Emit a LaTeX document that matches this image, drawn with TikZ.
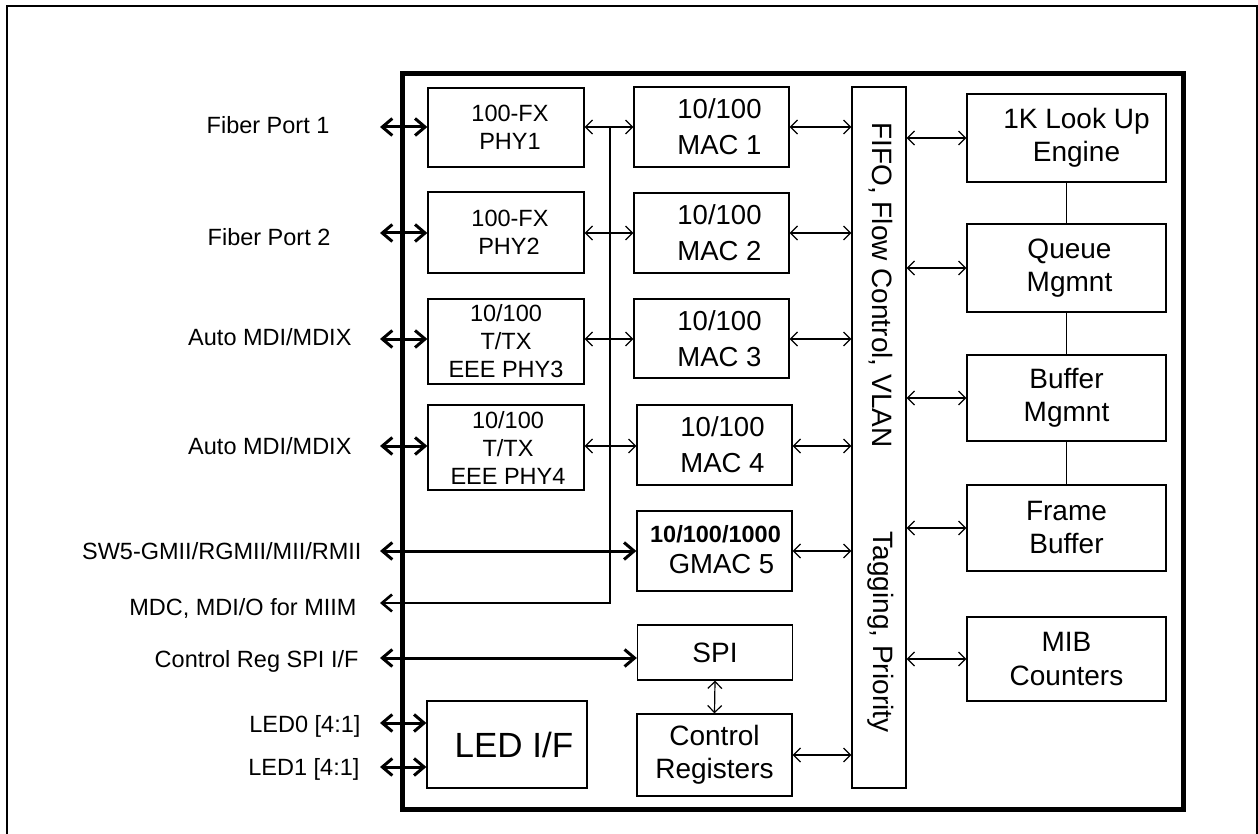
\documentclass[tikz,border=0pt]{standalone}
\usepackage{fontspec}
\setmainfont{Liberation Sans}
\usetikzlibrary{arrows.meta}
\begin{document}
\begin{tikzpicture}[x=1pt,y=-1pt,
  blk/.style={draw, line width=1.3pt, inner sep=0pt, align=center},
  lab/.style={anchor=base east, font=\fontsize{23.5}{28}\selectfont},
  tarr/.style={line width=3pt, {Straight Barb[length=10pt,width=17pt]}-{Straight Barb[length=10pt,width=17pt]}},
  sarr/.style={line width=1.2pt, {Straight Barb[length=7pt,width=14pt]}-{Straight Barb[length=7pt,width=14pt]}},
  link/.style={line width=1.2pt},
  fphy/.style={font=\fontsize{23.5}{28}\selectfont},
  fmac/.style={font=\fontsize{27.5}{36}\selectfont},
  fbig/.style={font=\fontsize{28}{33}\selectfont},
  fled/.style={font=\fontsize{35}{40}\selectfont}
]
\useasboundingbox (0,0) rectangle (1258,834);
% outer frame (open at the bottom)
\draw[line width=2pt] (7,850) -- (7,6.5) -- (1256.5,6.5) -- (1256.5,850);
% chip frame
\node[draw, line width=5pt, inner sep=0pt, minimum width=781pt, minimum height=735pt] (chip) at (792.5,441.5) {};

% PHY column
\node[blk, fphy, minimum width=156pt, minimum height=79pt] (phy1) at (506,127.5) {\hspace*{8pt}100-FX\\\hspace*{8pt}PHY1};
\node[blk, fphy, minimum width=156pt, minimum height=81pt] (phy2) at (506,232.5) {\hspace*{8pt}100-FX\\\hspace*{6pt}PHY2};
\node[blk, fphy, minimum width=156pt, minimum height=85pt] (phy3) at (506,341.5) {10/100\\T/TX\\EEE PHY3};
\node[blk, fphy, minimum width=156pt, minimum height=85pt] (phy4) at (506,447.5) {\hspace*{4pt}10/100\\\hspace*{4pt}T/TX\\\hspace*{4pt}EEE PHY4};

% MAC column
\node[blk, minimum width=155pt, minimum height=80pt] (mac1) at (711.5,127) {};
\node[fmac, align=center] at ([xshift=8pt]mac1.center) {10/100\\MAC 1};
\node[blk, minimum width=155pt, minimum height=80pt] (mac2) at (711.5,233) {};
\node[fmac, align=center] at ([xshift=8pt]mac2.center) {10/100\\MAC 2};
\node[blk, minimum width=155pt, minimum height=79pt] (mac3) at (711.5,338.5) {};
\node[fmac, align=center] at ([xshift=8pt]mac3.center) {10/100\\MAC 3};
\node[blk, minimum width=155pt, minimum height=80pt] (mac4) at (714.5,445) {};
\node[fmac, align=center] at ([xshift=8pt]mac4.center) {10/100\\MAC 4};
\node[blk, minimum width=155pt, minimum height=80pt] (gmac) at (714.5,551) {};
\node[align=center, font=\fontsize{27.5}{31}\selectfont] at ([xshift=1pt,yshift=1pt]gmac.center) {{\fontsize{23.5}{31}\selectfont\bfseries 10/100/1000}\\\hspace*{12pt}GMAC 5};
\node[blk, fbig, minimum width=155pt, minimum height=55pt] (spi) at (715,652.5) {SPI};
\node[blk, fbig, minimum width=155pt, minimum height=82pt] (creg) at (714.5,755) {Control\\Registers};
\node[blk, minimum width=160pt, minimum height=87pt] (led) at (507,744.5) {};
\node[fled] at ([xshift=7pt]led.center) {LED I/F};

% FIFO column
\node[blk, minimum width=54pt, minimum height=701pt] (fifo) at (879,437.5) {};
\node[fbig, rotate=-90] at (881,285) {FIFO, Flow Control, VLAN};
\node[fbig, rotate=-90] at (881,632) {Tagging, Priority};

% right column
\node[blk, minimum width=199pt, minimum height=88pt] (lookup) at (1066.5,138) {};
\node[fbig, align=center] at ([xshift=10pt]lookup.center) {1K Look Up\\Engine};
\node[blk, fbig, minimum width=199pt, minimum height=88pt] (queue) at (1066.5,268) {\hspace*{6pt}Queue\\\hspace*{6pt}Mgmnt};
\node[blk, fbig, minimum width=199pt, minimum height=86pt] (buffer) at (1066.5,398) {Buffer\\Mgmnt};
\node[blk, fbig, minimum width=199pt, minimum height=86pt] (frame) at (1066.5,528) {Frame\\Buffer};
\node[blk, fbig, minimum width=199pt, minimum height=84pt] (mib) at (1066.5,659) {MIB\\Counters};

% external labels
\node[lab] (l1) at (333,134) {Fiber Port 1};
\node[lab] (l2) at (334,246) {Fiber Port 2};
\node[lab] (l3) at (355,345) {Auto MDI/MDIX};
\node[lab] (l4) at (355,454) {Auto MDI/MDIX};
\node[lab] (l5) at (365,559) {SW5-GMII/RGMII/MII/RMII};
\node[lab] (l6) at (360,615) {MDC, MDI/O for MIIM};
\node[lab] (l7) at (362,667) {Control Reg SPI I/F};
\node[lab] (l8) at (364,732) {LED0 [4:1]};
\node[lab] (l9) at (363,775) {LED1 [4:1]};

% free ends of external connectors
\coordinate (e1) at (380,127);
\coordinate (e2) at (380,233);
\coordinate (e3) at (380,339);
\coordinate (e4) at (380,446);
\coordinate (e5) at (380,551);
\coordinate (e6) at (380,603);
\coordinate (e7) at (380,658);
\coordinate (e8) at (380,723);
\coordinate (e9) at (380,767);
\coordinate (bt) at (610,127);
\coordinate (bb) at (610,603);

% thick external connectors
\draw[tarr] (e1) -- (e1 -| phy1.west);
\draw[tarr] (e2) -- (e2 -| phy2.west);
\draw[tarr] (e3) -- (e3 -| phy3.west);
\draw[tarr] (e4) -- (e4 -| phy4.west);
\draw[tarr] (e5) -- (e5 -| gmac.west);
\draw[line width=2.6pt, -{Straight Barb[length=10pt,width=17pt]}] (bt) -- (bb) -- (e6);
\draw[tarr] (e7) -- (e7 -| spi.west);
\draw[tarr] (e8) -- (e8 -| led.west);
\draw[tarr] (e9) -- (e9 -| led.west);

% PHY to MAC
\draw[sarr] (e1 -| phy1.east) -- (e1 -| mac1.west);
\draw[sarr] (e2 -| phy2.east) -- (e2 -| mac2.west);
\draw[sarr] (e3 -| phy3.east) -- (e3 -| mac3.west);
\draw[sarr] (e4 -| phy4.east) -- (e4 -| mac4.west);

% MAC to FIFO
\draw[sarr] (e1 -| mac1.east) -- (e1 -| fifo.west);
\draw[sarr] (e2 -| mac2.east) -- (e2 -| fifo.west);
\draw[sarr] (e3 -| mac3.east) -- (e3 -| fifo.west);
\draw[sarr] (e4 -| mac4.east) -- (e4 -| fifo.west);
\draw[sarr] (gmac.east) -- (gmac.east -| fifo.west);
\draw[sarr] (creg.east) -- (creg.east -| fifo.west);
\draw[sarr] (spi.south) -- (creg.north);

% FIFO to right column
\draw[sarr] (fifo.east |- lookup.west) -- (lookup.west);
\draw[sarr] (fifo.east |- queue.west) -- (queue.west);
\draw[sarr] (fifo.east |- buffer.west) -- (buffer.west);
\draw[sarr] (fifo.east |- frame.west) -- (frame.west);
\draw[sarr] (fifo.east |- mib.west) -- (mib.west);

% right column links
\draw[link] (lookup.south) -- (queue.north);
\draw[link] (queue.south) -- (buffer.north);
\draw[link] (buffer.south) -- (frame.north);
\end{tikzpicture}
\end{document}
